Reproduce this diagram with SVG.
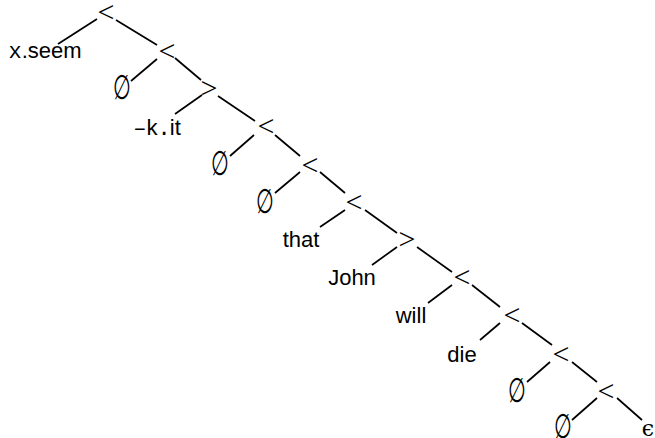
<svg xmlns="http://www.w3.org/2000/svg" width="655" height="438" viewBox="0 0 655 438">
<style>
.op{font-family:"Liberation Serif","DejaVu Serif",serif;font-size:30px;text-anchor:middle;fill:#000}
.lf{font-family:"Liberation Sans","DejaVu Sans",sans-serif;font-size:22px;text-anchor:middle;fill:#000}
.tt{font-family:"Liberation Mono","DejaVu Sans Mono",monospace}
.em{font-family:"DejaVu Serif","Liberation Serif",serif;font-size:22px;text-anchor:middle;fill:#000}
#edges line{stroke:#000;stroke-width:1.7;stroke-linecap:butt}
</style>
<rect width="655" height="438" fill="#fff"/>
<g id="edges">
<line x1="97" y1="19" x2="58" y2="44"/>
<line x1="116" y1="20" x2="157" y2="45"/>
<line x1="157" y1="59" x2="131" y2="81"/>
<line x1="175" y1="58" x2="201" y2="80"/>
<line x1="202" y1="95" x2="175" y2="114"/>
<line x1="218" y1="96" x2="255" y2="121"/>
<line x1="254" y1="135" x2="230" y2="156"/>
<line x1="275" y1="135" x2="300" y2="156"/>
<line x1="300" y1="172" x2="275" y2="193"/>
<line x1="320" y1="172" x2="345" y2="193"/>
<line x1="345" y1="210" x2="320" y2="227"/>
<line x1="365" y1="210" x2="397" y2="233"/>
<line x1="397" y1="247" x2="372" y2="265"/>
<line x1="417" y1="247" x2="452" y2="272"/>
<line x1="452" y1="285" x2="428" y2="303"/>
<line x1="472" y1="285" x2="500" y2="307"/>
<line x1="500" y1="323" x2="480" y2="340"/>
<line x1="522" y1="323" x2="552" y2="345"/>
<line x1="550" y1="362" x2="527" y2="382"/>
<line x1="572" y1="362" x2="597" y2="382"/>
<line x1="597" y1="398" x2="572" y2="420"/>
<line x1="617" y1="398" x2="642" y2="420"/>
</g>
<g id="n1"><text class="op" x="106" y="22">&lt;</text></g>
<g id="n2"><text class="op" x="167" y="61">&lt;</text></g>
<g id="n3"><text class="op" x="209" y="98">&gt;</text></g>
<g id="n4"><text class="op" x="266" y="136">&lt;</text></g>
<g id="n5"><text class="op" x="310" y="175">&lt;</text></g>
<g id="n6"><text class="op" x="354" y="212">&lt;</text></g>
<g id="n7"><text class="op" x="407" y="249">&gt;</text></g>
<g id="n8"><text class="op" x="462" y="287">&lt;</text></g>
<g id="n9"><text class="op" x="512" y="325">&lt;</text></g>
<g id="n10"><text class="op" x="561" y="364">&lt;</text></g>
<g id="n11"><text class="op" x="606" y="401">&lt;</text></g>
<g id="l1"><text class="lf" x="45" y="58"><tspan class="tt">x</tspan>.seem</text></g>
<g id="l2"><text class="em" transform="translate(121.5,88) scale(0.93,1.55)" x="0" y="7">∅</text></g>
<g id="l3"><text class="lf" x="157" y="135"><tspan class="tt" letter-spacing="-1">–k.</tspan>it</text></g>
<g id="l4"><text class="em" transform="translate(220,164) scale(0.93,1.55)" x="0" y="7">∅</text></g>
<g id="l5"><text class="em" transform="translate(265,202) scale(0.93,1.55)" x="0" y="7">∅</text></g>
<g id="l6"><text class="lf" x="301" y="247">that</text></g>
<g id="l7"><text class="lf" x="352" y="285">John</text></g>
<g id="l8"><text class="lf" x="411" y="323">will</text></g>
<g id="l9"><text class="lf" x="462" y="362">die</text></g>
<g id="l10"><text class="em" transform="translate(516.5,391) scale(0.93,1.55)" x="0" y="7">∅</text></g>
<g id="l11"><text class="em" transform="translate(563,427) scale(0.93,1.55)" x="0" y="7">∅</text></g>
<g id="l12"><text class="em" x="648" y="436">ϵ</text></g>
</svg>
